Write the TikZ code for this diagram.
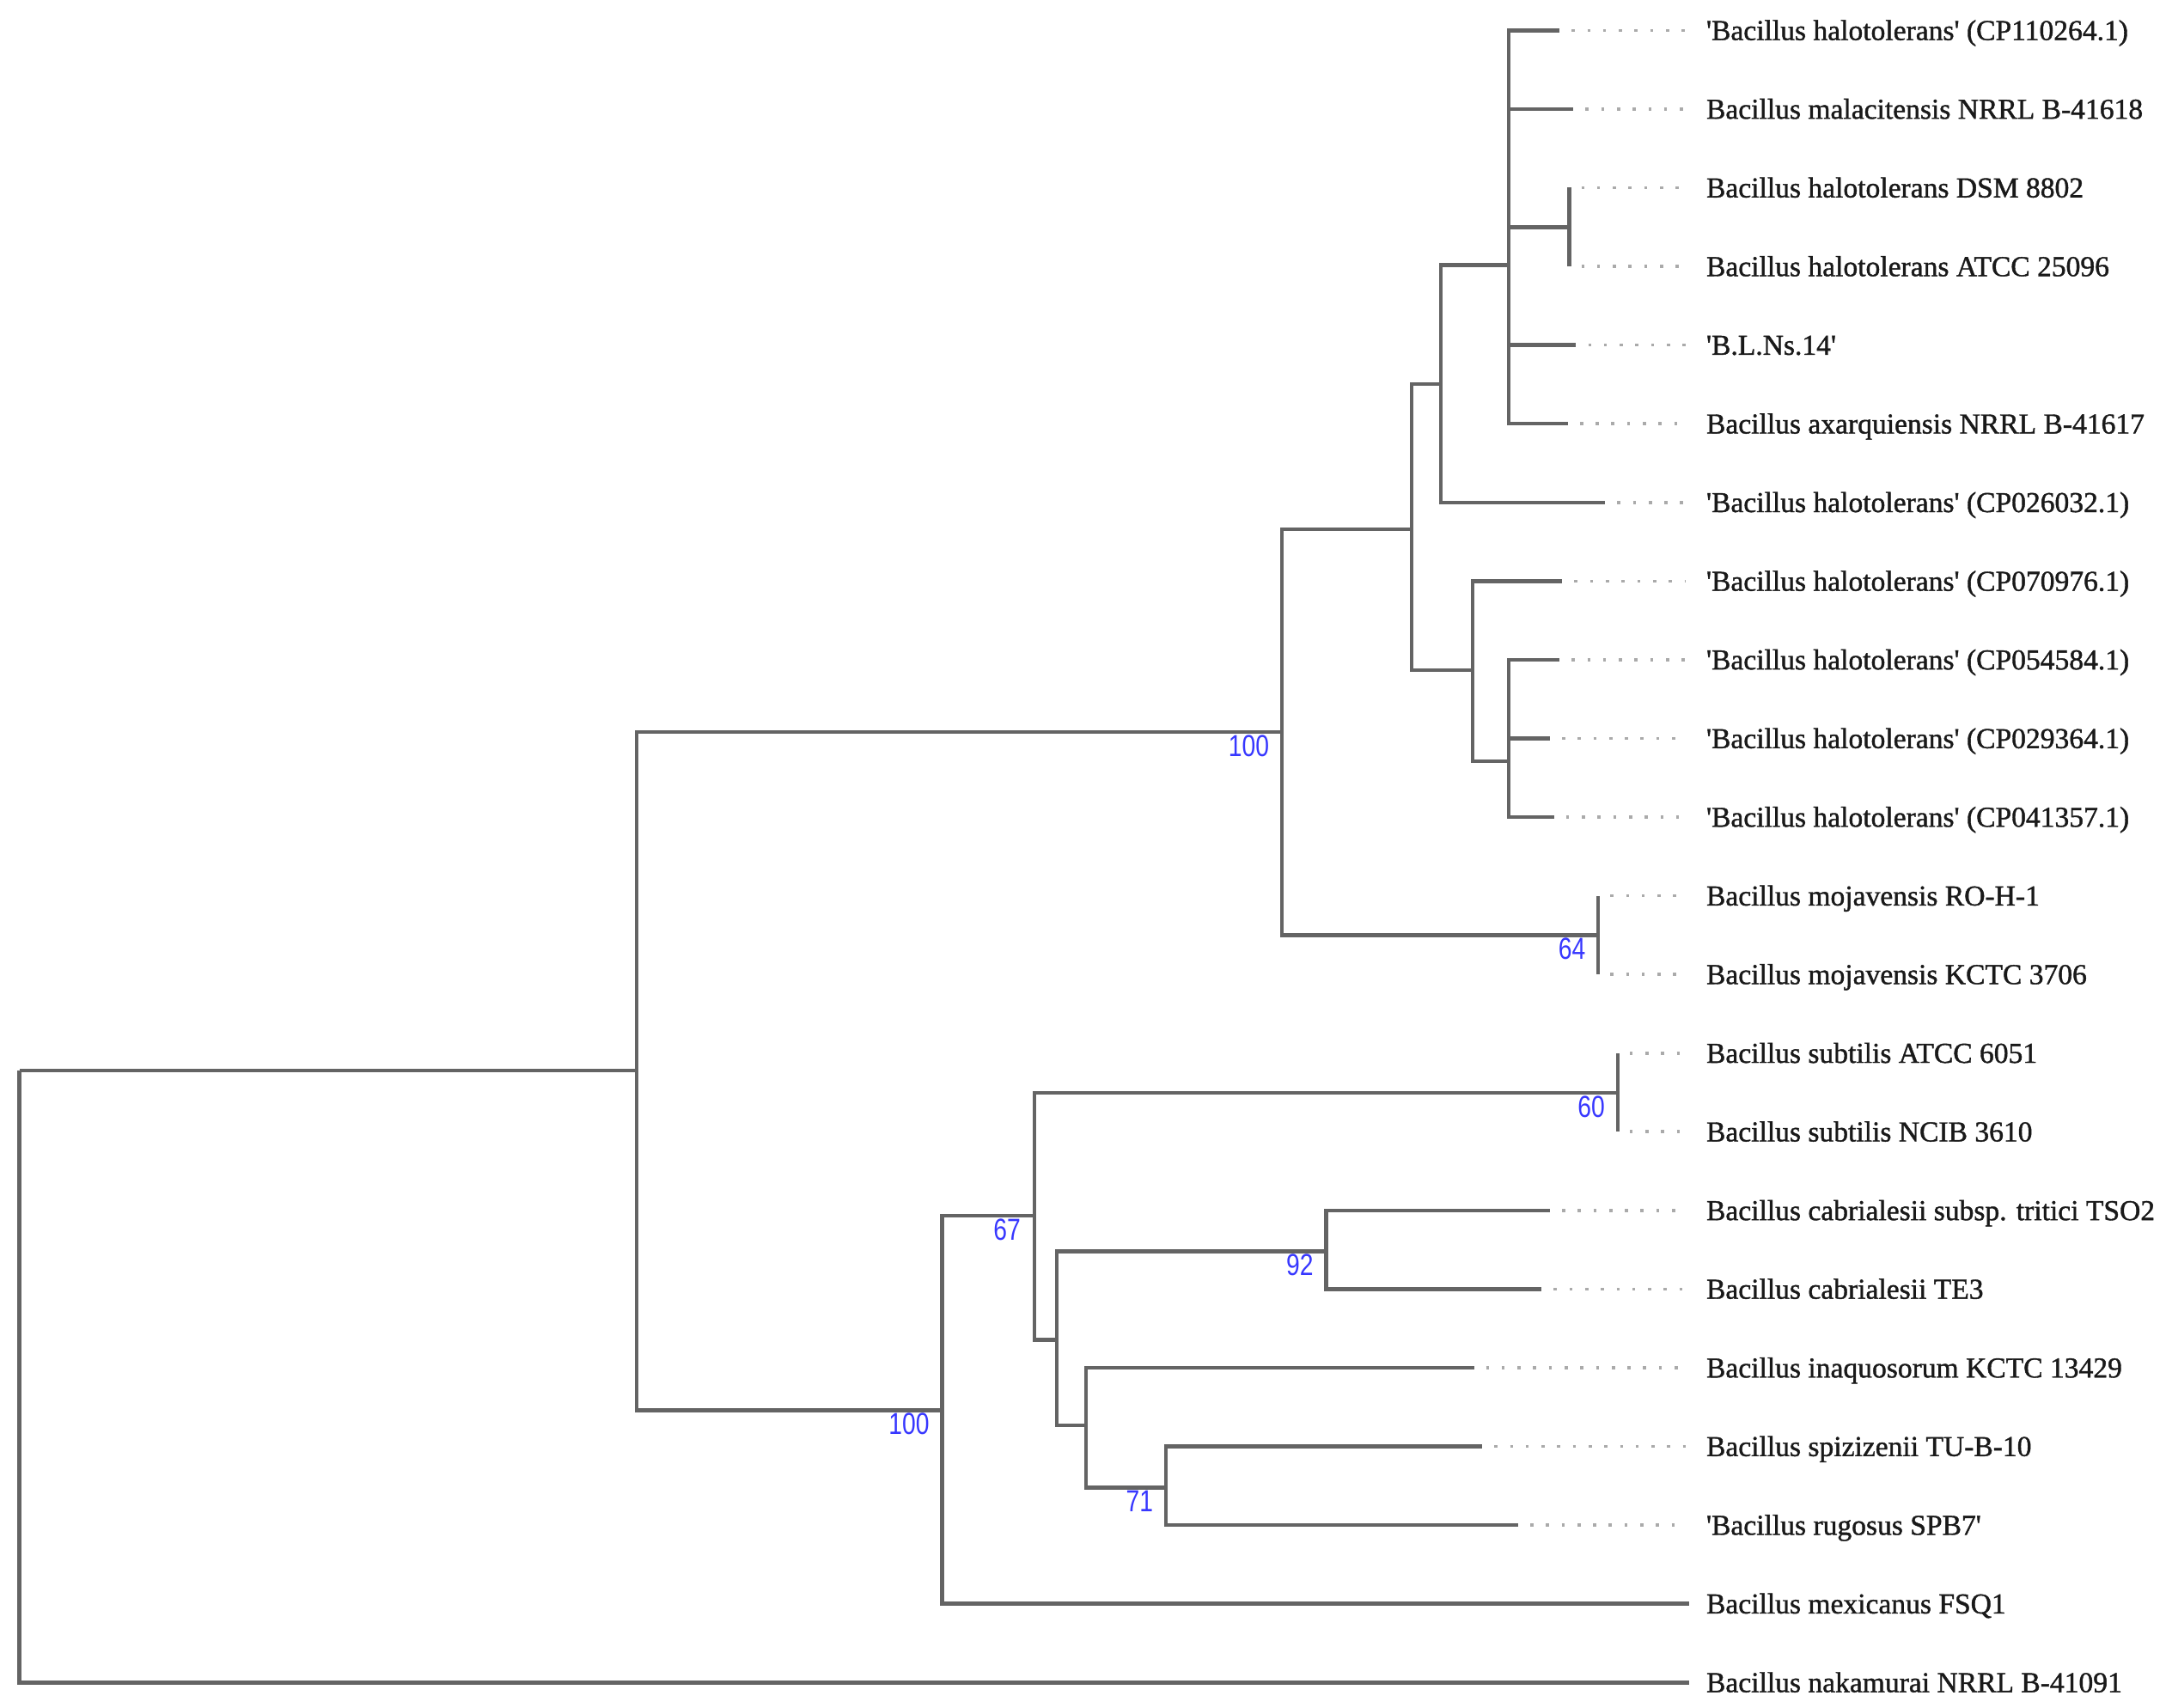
\documentclass[tikz,border=0pt]{standalone}
\usepackage{fontspec}
\setmainfont{Liberation Serif}
\newfontfamily\leaffont[FakeBold=1.2]{Liberation Serif}
\newfontfamily\bootfont[FakeStretch=0.8]{Liberation Sans}
\definecolor{branchgray}{RGB}{100,100,100}
\definecolor{dotgray}{RGB}{170,170,170}
\definecolor{bootblue}{RGB}{55,55,255}
\definecolor{leafink}{RGB}{25,25,25}
\begin{document}
\begin{tikzpicture}[x=0.8pt,y=-0.8pt,
  br/.style={draw=branchgray, line width=2.2pt, line join=miter},
  dotline/.style={draw=dotgray, line width=1.8pt, dash pattern=on 1.8pt off 7.3pt, shorten <=7pt, shorten >=12pt},
  leaf/.style={anchor=base west, inner sep=0pt, text=leafink, font=\leaffont\fontsize{16.7pt}{20pt}\selectfont},
  boot/.style={anchor=north east, inner sep=0pt, text=bootblue, font=\bootfont\fontsize{17.6pt}{20pt}\selectfont}]
\useasboundingbox (0,0) rectangle (1568,1236);

% internal nodes
\coordinate (root) at (14,775);
\coordinate (A) at (461,775);
\coordinate (B) at (928,530);
\coordinate (C) at (1022,383);
\coordinate (D) at (1043,278);
\coordinate (E) at (1092,192);
\coordinate (P) at (1136,164.4);
\coordinate (F) at (1066,485);
\coordinate (G) at (1092,551);
\coordinate (H) at (1157,677);
\coordinate (I) at (682,1021);
\coordinate (J) at (749,880);
\coordinate (K) at (1171,791);
\coordinate (L) at (765,970);
\coordinate (M) at (960,906);
\coordinate (N) at (786,1032);
\coordinate (O) at (844,1077);

% tips
\coordinate (t1) at (1129,22.0);
\coordinate (t2) at (1139,78.95);
\coordinate (t3) at (1136,135.9);
\coordinate (t4) at (1136,192.9);
\coordinate (t5) at (1141,249.8);
\coordinate (t6) at (1135,306.8);
\coordinate (t7) at (1162,363.7);
\coordinate (t8) at (1131,420.7);
\coordinate (t9) at (1129,477.6);
\coordinate (t10) at (1122,534.6);
\coordinate (t11) at (1125,591.5);
\coordinate (t12) at (1157,648.5);
\coordinate (t13) at (1157,705.4);
\coordinate (t14) at (1171,762.4);
\coordinate (t15) at (1171,819.3);
\coordinate (t16) at (1122,876.3);
\coordinate (t17) at (1116,933.2);
\coordinate (t18) at (1067,990.2);
\coordinate (t19) at (1073,1047.1);
\coordinate (t20) at (1099,1104.1);
\coordinate (t21) at (1223,1161.0);
\coordinate (t22) at (1223,1218.0);

% labels
\node[leaf] (l1) at (1235,29.0) {\textquotesingle Bacillus halotolerans\textquotesingle{} (CP110264.1)};
\node[leaf] (l2) at (1235,85.95) {Bacillus malacitensis NRRL B-41618};
\node[leaf] (l3) at (1235,142.9) {Bacillus halotolerans DSM 8802};
\node[leaf] (l4) at (1235,199.9) {Bacillus halotolerans ATCC 25096};
\node[leaf] (l5) at (1235,256.8) {\textquotesingle B.L.Ns.14\textquotesingle};
\node[leaf] (l6) at (1235,313.8) {Bacillus axarquiensis NRRL B-41617};
\node[leaf] (l7) at (1235,370.7) {\textquotesingle Bacillus halotolerans\textquotesingle{} (CP026032.1)};
\node[leaf] (l8) at (1235,427.7) {\textquotesingle Bacillus halotolerans\textquotesingle{} (CP070976.1)};
\node[leaf] (l9) at (1235,484.6) {\textquotesingle Bacillus halotolerans\textquotesingle{} (CP054584.1)};
\node[leaf] (l10) at (1235,541.6) {\textquotesingle Bacillus halotolerans\textquotesingle{} (CP029364.1)};
\node[leaf] (l11) at (1235,598.5) {\textquotesingle Bacillus halotolerans\textquotesingle{} (CP041357.1)};
\node[leaf] (l12) at (1235,655.5) {Bacillus mojavensis RO-H-1};
\node[leaf] (l13) at (1235,712.4) {Bacillus mojavensis KCTC 3706};
\node[leaf] (l14) at (1235,769.4) {Bacillus subtilis ATCC 6051};
\node[leaf] (l15) at (1235,826.3) {Bacillus subtilis NCIB 3610};
\node[leaf] (l16) at (1235,883.3) {Bacillus cabrialesii subsp. tritici TSO2};
\node[leaf] (l17) at (1235,940.2) {Bacillus cabrialesii TE3};
\node[leaf] (l18) at (1235,997.2) {Bacillus inaquosorum KCTC 13429};
\node[leaf] (l19) at (1235,1054.1) {Bacillus spizizenii TU-B-10};
\node[leaf] (l20) at (1235,1111.1) {\textquotesingle Bacillus rugosus SPB7\textquotesingle};
\node[leaf] (l21) at (1235,1168.0) {Bacillus mexicanus FSQ1};
\node[leaf] (l22) at (1235,1225.0) {Bacillus nakamurai NRRL B-41091};

% branches
\draw[br] (root) |- (A);
\draw[br] (root) |- (t22);
\draw[br] (A) |- (B);
\draw[br] (A) |- (I);
\draw[br] (B) |- (C);
\draw[br] (B) |- (H);
\draw[br] (C) |- (D);
\draw[br] (C) |- (F);
\draw[br] (D) |- (E);
\draw[br] (D) |- (t7);
\draw[br] (E) |- (t1);
\draw[br] (E) |- (t2);
\draw[br] (E) |- (P);
\draw[br] (E) |- (t5);
\draw[br] (E) |- (t6);
\draw[br] (P) |- (t3);
\draw[br] (P) |- (t4);
\draw[br] (F) |- (t8);
\draw[br] (F) |- (G);
\draw[br] (G) |- (t9);
\draw[br] (G) |- (t10);
\draw[br] (G) |- (t11);
\draw[br] (H) |- (t12);
\draw[br] (H) |- (t13);
\draw[br] (I) |- (J);
\draw[br] (I) |- (t21);
\draw[br] (J) |- (K);
\draw[br] (J) |- (L);
\draw[br] (K) |- (t14);
\draw[br] (K) |- (t15);
\draw[br] (L) |- (M);
\draw[br] (L) |- (N);
\draw[br] (M) |- (t16);
\draw[br] (M) |- (t17);
\draw[br] (N) |- (t18);
\draw[br] (N) |- (O);
\draw[br] (O) |- (t19);
\draw[br] (O) |- (t20);

% dotted leaders
\foreach \i in {1,...,20}{
  \draw[dotline] (t\i) -- (t\i -| l\i.west);
}

% bootstrap values
\node[boot] (bB) at (919,532) {100};
\node[boot] (bH) at (1148,679) {64};
\node[boot] (bK) at (1162,793) {60};
\node[boot] (bJ) at (739,882) {67};
\node[boot] (bM) at (951,907.5) {92};
\node[boot] (bI) at (673,1023) {100};
\node[boot] (bO) at (835,1079) {71};
\end{tikzpicture}
\end{document}
